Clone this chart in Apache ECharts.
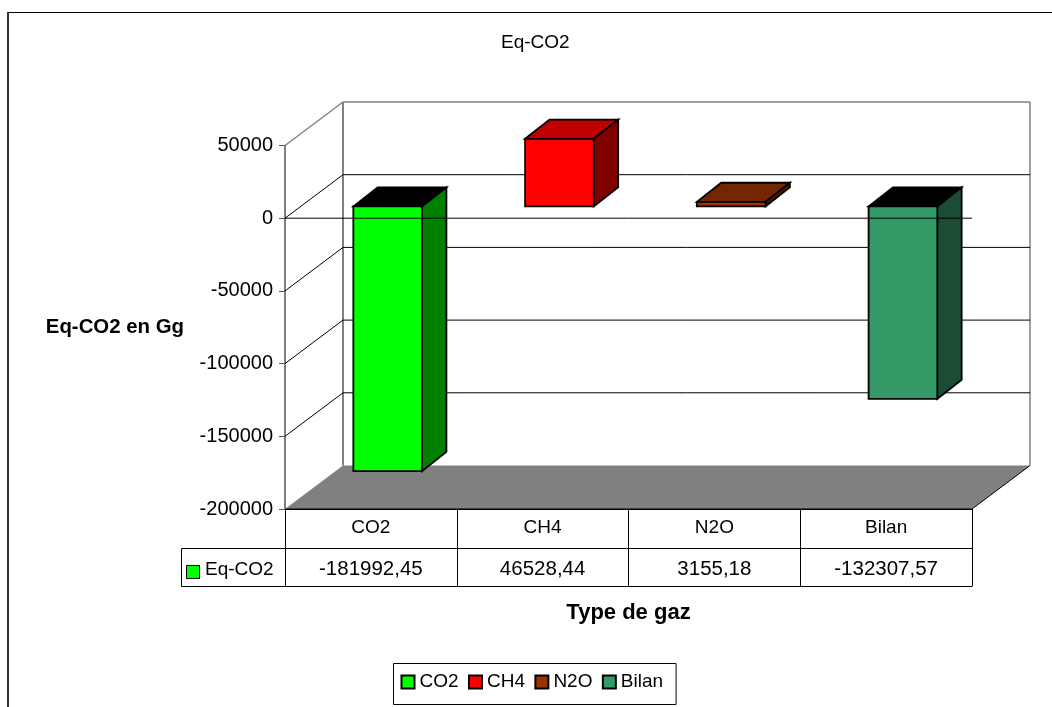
<!DOCTYPE html>
<html>
<head>
<meta charset="utf-8">
<style>html,body{margin:0;padding:0;background:#fff}#chart{width:1052px;height:707px}</style>
<script src="https://cdn.jsdelivr.net/npm/echarts@6/dist/echarts.min.js"></script>
</head>
<body>
<div id="chart"></div>
<script>
// Greenhouse gas balance, in Gg of CO2 equivalent
const gases = ['CO2', 'CH4', 'N2O', 'Bilan'];
const eqCo2 = [-181992.45, 46528.44, 3155.18, -132307.57];
const valueTicks = [50000, 0, -50000, -100000, -150000, -200000];

// Oblique projection of the box: how far the back wall sits from the front plane
const DEPTH_X = 58, DEPTH_Y = 43.5;
const BAR_FRONT_X = 0.29, BAR_FRONT_Y = 0.27;
const BAR_DEPTH_X = 0.42, BAR_DEPTH_Y = 0.44;
const BAR_WIDTH = 0.4;
const FONT = '"Liberation Sans", Arial, sans-serif';

const palette = {
  CO2:   { front: '#00FF00', side: '#008000', top: '#000000' },
  CH4:   { front: '#FF0000', side: '#800000', top: '#BF0000' },
  N2O:   { front: '#993300', side: '#4D1A00', top: '#732600' },
  Bilan: { front: '#339966', side: '#1A4D33', top: '#000000' }
};

const formatValue = v => v.toFixed(2).replace('.', ',');

function poly(points, fill, stroke, width) {
  return { type: 'polygon', shape: { points }, style: { fill, stroke, lineWidth: width, lineJoin: 'miter' } };
}
function seg(a, b, stroke, width) {
  return { type: 'line', shape: { x1: a[0], y1: a[1], x2: b[0], y2: b[1] }, style: { stroke, lineWidth: width } };
}

// Walls, floor and gridlines, projected from the value axis
function renderBox(params, api) {
  const tick = api.value(0);
  const n = gases.length;
  const l = api.coord([0, tick]);
  const halfBand = api.size([1, 0])[0] / 2;
  const x0 = l[0] - halfBand;
  const x1 = x0 + 2 * halfBand * n;
  const y = l[1];
  const children = [];
  const top = tick === valueTicks[0];
  const bottom = tick === valueTicks[valueTicks.length - 1];
  const backY = y - DEPTH_Y;
  if (top) {
    const floorY = api.coord([0, valueTicks[valueTicks.length - 1]])[1] - DEPTH_Y;
    children.push(seg([x0 + DEPTH_X, backY], [x0 + DEPTH_X, floorY], '#808080', 2));
    children.push(seg([x1 + DEPTH_X, backY], [x1 + DEPTH_X, floorY], '#A0A0A0', 2));
    children.push(seg([x0, y], [x0 + DEPTH_X, backY], '#808080', 1.5));
    children.push(seg([x0 + DEPTH_X, backY], [x1 + DEPTH_X, backY], '#808080', 1.5));
  } else if (bottom) {
    children.push(poly([[x0, y], [x0 + DEPTH_X, backY], [x1 + DEPTH_X, backY], [x1, y]], '#808080', null, 0));
    children.push(seg([x1, y], [x1 + DEPTH_X, backY], '#000000', 1));
    children.push(seg([x0, y], [x1, y], '#000000', 1));
  } else {
    children.push(seg([x0, y], [x0 + DEPTH_X, backY], '#000000', 1));
    children.push(seg([x0 + DEPTH_X, backY], [x1 + DEPTH_X, backY], '#000000', 1));
  }
  return { type: 'group', children };
}

// One 3D bar: top and side faces first, then the front face
function renderBar(params, api) {
  const cat = api.value(0), val = api.value(1);
  const c = palette[gases[cat]];
  const band = api.size([1, 0])[0];
  const zero = api.coord([cat, 0]), end = api.coord([cat, val]);
  const x = zero[0] - band * BAR_WIDTH / 2 + DEPTH_X * BAR_FRONT_X;
  const w = band * BAR_WIDTH;
  const yA = Math.min(zero[1], end[1]) - DEPTH_Y * BAR_FRONT_Y;
  const yB = Math.max(zero[1], end[1]) - DEPTH_Y * BAR_FRONT_Y;
  const dx = DEPTH_X * BAR_DEPTH_X, dy = DEPTH_Y * BAR_DEPTH_Y;
  const outline = '#000000', lw = 1.8;
  return { type: 'group', children: [
    poly([[x, yA], [x + dx, yA - dy], [x + w + dx, yA - dy], [x + w, yA]], c.top, outline, lw),
    poly([[x + w, yA], [x + w + dx, yA - dy], [x + w + dx, yB - dy], [x + w, yB]], c.side, outline, lw),
    poly([[x, yA], [x + w, yA], [x + w, yB], [x, yB]], c.front, outline, lw)
  ] };
}

// The zero line runs along the front plane, in front of the bars
function renderZero(params, api) {
  const p = api.coord([0, 0]);
  const band = api.size([1, 0])[0];
  const x0 = p[0] - band / 2;
  return seg([x0, p[1]], [x0 + band * gases.length, p[1]], '#000000', 1);
}

const barSeries = gases.map((name, i) => ({
  name,
  type: 'custom',
  coordinateSystem: 'cartesian2d',
  renderItem: renderBar,
  clip: false,
  z: 5,
  encode: { x: 0, y: 1 },
  itemStyle: { color: palette[name].front, borderColor: '#000', borderWidth: 1.5 },
  data: [[i, eqCo2[i]]]
}));

const option = {
  animation: false,
  backgroundColor: '#ffffff',
  textStyle: { fontFamily: FONT },
  title: {
    text: 'Eq-CO2',
    left: 501, top: 33, padding: 0,
    textStyle: { fontFamily: FONT, fontSize: 19, fontWeight: 'normal', color: '#000' }
  },
  legend: {
    data: gases,
    left: 393.5, top: 663.5,
    orient: 'horizontal',
    itemWidth: 13, itemHeight: 13, itemGap: 9.4,
    icon: 'rect',
    padding: [9, 13, 13, 7],
    backgroundColor: '#fff',
    borderColor: '#000', borderWidth: 1,
    selectedMode: false,
    textStyle: { fontFamily: FONT, fontSize: 19, color: '#000', padding: [0, 0, 4, 0] }
  },
  grid: { left: 285, top: 145.5, width: 687, height: 363.5, containLabel: false },
  xAxis: [{
    type: 'category',
    position: 'bottom',
    data: gases,
    axisLine: { show: true, onZero: false, lineStyle: { color: '#000', width: 1 } },
    axisTick: { show: true, length: 39, lineStyle: { color: '#000', width: 1 } },
    axisLabel: { color: '#000', fontSize: 19, fontFamily: FONT, margin: 9, interval: 0 },
    splitLine: { show: false },
    name: 'Type de gaz',
    nameLocation: 'middle',
    nameGap: 93,
    nameTextStyle: { fontFamily: FONT, fontSize: 22, fontWeight: 'bold', color: '#000' }
  }, {
    type: 'category',
    position: 'bottom',
    offset: 39,
    data: eqCo2.map(formatValue),
    axisLine: { show: true, onZero: false, lineStyle: { color: '#000', width: 1 } },
    axisTick: { show: true, length: 38, lineStyle: { color: '#000', width: 1 } },
    axisLabel: { color: '#000', fontSize: 20.5, fontFamily: FONT, margin: 11, interval: 0 },
    splitLine: { show: false }
  }],
  yAxis: {
    type: 'value',
    min: -200000, max: 50000, interval: 50000,
    axisLine: { show: true, onZero: false, lineStyle: { color: '#555', width: 1.5 } },
    axisTick: { show: true, length: 6, lineStyle: { color: '#555', width: 1 } },
    axisLabel: { color: '#000', fontSize: 20, fontFamily: FONT, margin: 12, padding: [2, 0, 0, 0],
      formatter: v => String(v) },
    splitLine: { show: false },
    name: 'Eq-CO2 en Gg',
    nameLocation: 'middle',
    nameRotate: 0,
    nameGap: 101,
    nameTextStyle: { fontFamily: FONT, fontSize: 20.4, fontWeight: 'bold', color: '#000', align: 'right' }
  },
  graphic: [
    // Outer chart frame, open on the right and bottom
    { type: 'line', z: 1, shape: { x1: 8, y1: 12.5, x2: 1052, y2: 12.5 }, style: { stroke: '#000', lineWidth: 1.2 } },
    { type: 'line', z: 1, shape: { x1: 8, y1: 12, x2: 8, y2: 707 }, style: { stroke: '#333', lineWidth: 2 } },
    // Left-hand cell and bottom rule of the data table, with the series key
    { type: 'polyline', z: 1, shape: { points: [[285, 548.5], [181.5, 548.5], [181.5, 586.5], [972.5, 586.5]] },
      style: { fill: null, stroke: '#000', lineWidth: 1 } },
    { type: 'rect', z: 1, shape: { x: 186.5, y: 565.5, width: 13, height: 13 },
      style: { fill: '#00FF00', stroke: '#000', lineWidth: 1 } },
    { type: 'text', z: 1, x: 205, y: 560, style: { text: 'Eq-CO2', font: '19px ' + FONT, fill: '#000' } }
  ],
  series: [
    {
      name: 'box',
      type: 'custom',
      coordinateSystem: 'cartesian2d',
      renderItem: renderBox,
      clip: false,
      silent: true,
      z: 1,
      encode: { y: 0 },
      data: valueTicks.map(v => [v])
    },
    ...barSeries,
    {
      name: 'zero',
      type: 'custom',
      coordinateSystem: 'cartesian2d',
      renderItem: renderZero,
      clip: false,
      silent: true,
      z: 8,
      encode: { y: 0 },
      data: [[0]]
    }
  ]
};

echarts.init(document.getElementById('chart'), null, { renderer: 'canvas' }).setOption(option);
</script>
</body>
</html>
